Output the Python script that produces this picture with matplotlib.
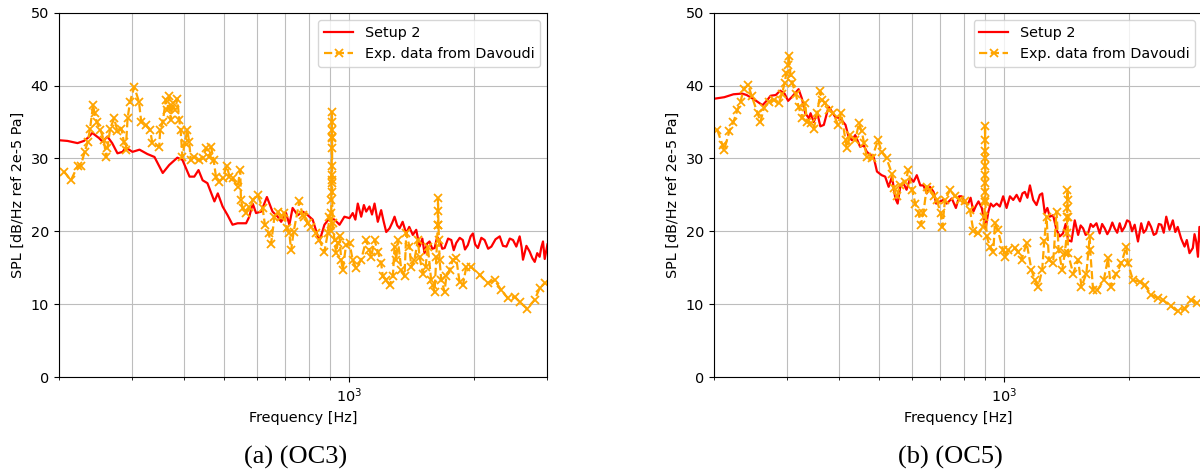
import matplotlib
matplotlib.use("Agg")
import matplotlib.pyplot as plt
from matplotlib.ticker import NullFormatter

# ---------------- data ----------------
# (a) OC3 — Setup 2 (simulation)
f_oc3_sim = [200, 210, 222, 230, 236, 241, 246, 250, 255, 262, 269, 277, 285, 290, 301,
             313, 327, 340, 356, 369, 386, 397, 413, 424, 434, 444, 456, 474, 483, 496,
             510, 524, 539, 565, 575, 586, 597, 614, 634, 654, 673, 686, 705, 718, 731,
             752, 773, 788, 817, 848, 872, 897, 922, 948, 974, 1002, 1020, 1035, 1049, 1069,
             1085, 1099, 1119, 1135, 1151, 1172, 1194, 1210, 1228, 1251, 1270, 1286, 1305, 1322,
             1345, 1372, 1395, 1423, 1450, 1477, 1500, 1518, 1540, 1561, 1585, 1606, 1628, 1650,
             1675, 1697, 1730, 1761, 1785, 1810, 1845, 1877, 1900, 1930, 1960, 1985, 2010, 2041,
             2080, 2118, 2160, 2199, 2250, 2303, 2345, 2390, 2435, 2479, 2525, 2572, 2600, 2620,
             2670, 2719, 2760, 2796, 2835, 2873, 2900, 2927, 2955, 2982, 3000]
spl_oc3_sim = [32.5, 32.4, 32.1, 32.4, 32.9, 33.5, 33.1, 32.8, 32.3, 33.0, 32.1, 30.7, 30.9, 31.5, 30.9,
               31.2, 30.6, 30.2, 28.0, 29.1, 30.1, 29.8, 27.5, 27.5, 28.4, 27.0, 26.6, 24.1, 25.2, 23.4,
               22.2, 20.9, 21.1, 21.1, 22.0, 23.8, 22.5, 22.7, 24.7, 22.7, 22.0, 21.3, 22.5, 20.9, 23.2,
               22.2, 22.7, 22.4, 21.6, 18.6, 20.9, 21.8, 21.6, 20.9, 22.0, 21.8, 22.5, 21.6, 23.8, 22.0,
               23.6, 22.7, 23.4, 22.3, 23.8, 21.3, 22.9, 21.4, 19.9, 20.4, 21.2, 22.0, 20.8, 20.4,
               21.3, 19.7, 20.6, 19.5, 20.2, 17.9, 19.0, 17.0, 18.3, 18.6, 17.6, 17.7, 19.2, 18.8,
               17.6, 17.7, 19.0, 18.8, 17.4, 18.4, 19.1, 18.8, 17.5, 18.1, 19.3, 19.7, 18.2, 17.7,
               19.1, 18.8, 17.6, 17.9, 18.9, 19.3, 18.0, 17.9, 19.0, 18.8, 17.9, 19.3, 17.8, 16.1,
               18.0, 17.2, 16.3, 15.8, 17.0, 16.5, 17.8, 18.6, 16.2, 17.4, 18.2]

# (a) OC3 — Exp. data from Davoudi
f_oc3_exp = [206, 214, 222, 226, 231, 235, 238, 242, 244, 247, 252, 257, 260, 262, 266,
             272, 277, 283, 287, 290, 293, 297, 304, 312, 316, 324, 332, 336, 349, 351,
             356, 362, 365, 369, 372, 376, 381, 386, 390, 393, 397, 402, 408, 412, 416,
             424, 434, 444, 453, 461, 465, 472, 478, 487, 496, 508, 515, 524, 539, 547,
             549, 554, 565, 575, 586, 602, 619, 627, 640, 649, 661, 675, 686, 696, 709,
             718, 725, 735, 759, 773, 780, 794, 810, 833, 848, 872, 888, 896,
             905, 906, 906, 907, 907, 907, 908, 908, 908, 909, 909, 909, 910, 910,
             912, 922, 930, 939, 948, 957, 965, 983, 1002, 1020, 1040, 1069, 1099, 1119,
             1130, 1151, 1172, 1194, 1205, 1228, 1251, 1274, 1286, 1298, 1310, 1335, 1359, 1372,
             1397, 1410, 1436, 1463, 1477, 1504, 1527, 1546, 1575, 1590, 1605, 1621, 1634, 1636,
             1638, 1640, 1645, 1650, 1666, 1697, 1713, 1745, 1777, 1810, 1844, 1878, 1913, 1967,
             2061, 2156, 2239, 2325, 2410, 2502, 2572, 2680, 2796, 2874, 2955]
spl_oc3_exp = [28.2, 27.0, 28.9, 29.0, 30.9, 32.3, 34.1, 37.3, 36.2, 35.0, 33.9, 32.5, 30.2, 31.4, 34.1,
               35.5, 33.7, 34.1, 32.3, 31.2, 35.5, 37.8, 39.8, 37.8, 35.0, 34.6, 33.9, 32.1, 31.6, 33.9,
               35.0, 38.0, 36.6, 38.5, 35.3, 37.6, 36.6, 38.2, 35.3, 33.9, 30.2, 32.1, 33.9, 32.3, 29.8,
               30.2, 29.8, 30.0, 31.4, 30.2, 31.6, 29.8, 27.5, 26.8, 27.3, 29.0, 27.5, 27.3, 26.1, 28.4,
               24.3, 23.2, 22.5, 23.4, 24.3, 25.0, 23.2, 20.9, 19.7, 18.3, 22.0, 22.7, 22.0, 22.5, 20.4,
               19.7, 17.4, 19.9, 24.1, 22.2, 22.0, 21.1, 20.6, 19.7, 18.8, 17.2, 19.7, 22.0,
               20.0, 22.5, 24.3, 25.4, 26.6, 27.7, 28.9, 31.4, 32.8, 33.9, 35.0, 36.4, 33.0, 27.0,
               21.1, 18.8, 17.0, 18.4, 19.3, 16.0, 14.7, 18.1, 18.4, 16.0, 14.9, 16.1, 18.8, 17.4,
               16.5, 18.8, 17.2, 15.6, 13.8, 13.3, 12.6, 13.8, 17.9, 16.1, 18.8, 14.7, 13.8, 19.7,
               17.9, 15.1, 16.1, 18.8, 16.5, 14.2, 15.1, 17.9, 13.3, 12.6, 11.7, 16.5, 20.9, 24.5,
               22.8, 20.9, 18.8, 16.1, 13.3, 11.7, 13.8, 14.7, 16.1, 16.3, 13.0, 12.6, 15.1, 15.1,
               14.0, 12.9, 13.3, 11.9, 10.8, 11.0, 10.3, 9.4, 10.6, 12.2, 12.9]

# (b) OC5 — Setup 2 (simulation)
f_oc5_sim = [201, 212, 223, 234, 240, 250, 262, 269, 274, 282, 289, 296, 302, 309, 320,
             326, 332, 339, 342, 348, 355, 361, 368, 378, 385, 392, 403, 415, 422, 430,
             438, 450, 459, 467, 476, 485, 494, 507, 517, 527, 537, 547, 554, 562, 572,
             582, 594, 605, 616, 628, 639, 651, 663, 676, 686, 701, 714, 727, 748, 765,
             779, 790, 805, 819, 830, 843, 855, 867, 883, 902, 916, 928, 941, 959, 976,
             994, 1013, 1032, 1051, 1071, 1091, 1106, 1121, 1137, 1153, 1174, 1196, 1218, 1234,
             1252, 1270, 1287, 1311, 1336, 1360, 1385, 1405, 1424, 1451, 1478, 1506, 1527, 1548,
             1570, 1591, 1614, 1636, 1667, 1697, 1720, 1745, 1770, 1794, 1820, 1844, 1870, 1896,
             1920, 1949, 1975, 2003, 2030, 2060, 2098, 2136, 2165, 2194, 2225, 2256, 2290, 2321,
             2355, 2387, 2420, 2454, 2499, 2545, 2580, 2615, 2665, 2716, 2750, 2791, 2843, 2870,
             2897, 2925, 2949, 2975, 3000]
spl_oc5_sim = [38.2, 38.4, 38.8, 38.9, 38.7, 38.1, 37.3, 38.0, 38.6, 38.7, 39.3, 38.9, 37.9, 38.5, 39.5,
               38.2, 36.2, 35.5, 36.2, 35.0, 36.2, 34.4, 34.6, 37.1, 36.4, 35.7, 35.5, 34.6, 33.0, 32.5,
               33.2, 31.6, 31.8, 30.9, 30.5, 30.2, 28.2, 27.7, 27.5, 26.1, 27.5, 24.5, 23.8, 26.1, 26.6,
               25.7, 27.3, 26.8, 27.7, 26.3, 26.3, 25.2, 26.1, 25.4, 23.8, 24.1, 24.3, 23.8, 24.5, 23.2,
               24.8, 24.8, 23.9, 23.8, 24.6, 22.7, 23.5, 24.1, 23.2, 20.4, 22.7, 23.8, 23.4, 23.8, 23.4,
               24.8, 23.2, 24.8, 24.3, 25.0, 24.1, 25.2, 25.4, 24.6, 26.3, 24.3, 23.6, 25.0, 25.2,
               22.5, 23.2, 22.0, 22.2, 20.2, 19.3, 19.7, 21.0, 18.8, 18.6, 21.5, 19.5, 20.8, 20.4,
               19.5, 19.7, 21.0, 20.6, 21.1, 19.7, 21.0, 20.4, 19.6, 20.2, 21.2, 20.4, 19.8, 21.1,
               20.0, 20.6, 21.5, 21.3, 20.0, 20.9, 18.6, 21.1, 19.8, 20.2, 21.3, 20.6, 19.5, 19.7,
               21.0, 20.9, 19.8, 22.0, 20.2, 21.5, 19.9, 20.6, 19.0, 17.9, 18.8, 17.0, 17.7, 19.6,
               18.6, 16.5, 20.6, 18.5, 19.0]

# (b) OC5 — Exp. data from Davoudi
f_oc5_exp = [204, 210, 212, 218, 223, 228, 232, 236, 242, 247, 255, 259, 264, 271, 279,
             287, 292, 296, 299, 302, 303, 306, 309, 315, 320, 326, 332, 335, 342, 348,
             355, 361, 365, 371, 378, 388, 398, 405, 415, 418, 426, 438, 447, 454, 460,
             467, 480, 497, 507, 521, 537, 542, 551, 562, 578, 588, 600, 611, 622, 630,
             639, 651, 663, 676, 688, 703, 710, 720, 741, 761, 783, 805, 827, 843, 867,
             890, 896, 897, 897, 898, 898, 898, 899, 899, 899, 900, 901, 907, 924, 941, 950,
             964, 994, 1004, 1023, 1061, 1081, 1101, 1132, 1163, 1185, 1207, 1234, 1248, 1264,
             1281, 1311, 1336, 1352, 1378, 1399, 1415, 1417, 1418, 1419, 1420, 1421, 1423, 1465,
             1506, 1534, 1576, 1606, 1610, 1636, 1675, 1736, 1777, 1803, 1861, 1913, 1966, 1984,
             2040, 2117, 2177, 2256, 2345, 2405, 2522, 2615, 2716, 2820, 2917]
spl_oc5_exp = [33.9, 31.8, 31.2, 33.7, 35.0, 36.6, 37.8, 39.5, 40.1, 38.5, 36.2, 35.0, 36.9, 37.8, 38.0,
               37.6, 38.9, 40.3, 41.7, 42.8, 44.0, 41.5, 40.3, 38.9, 37.1, 35.5, 37.6, 35.0, 34.8, 34.1,
               36.2, 39.2, 38.0, 37.6, 36.6, 36.2, 34.6, 36.2, 32.5, 31.4, 33.2, 32.5, 34.8, 33.7, 32.1,
               30.2, 30.0, 32.5, 30.9, 30.0, 27.9, 25.9, 24.8, 26.3, 26.8, 28.4, 25.7, 23.8, 22.5, 20.9,
               22.5, 26.1, 25.7, 24.8, 24.3, 22.5, 20.6, 24.3, 25.7, 24.8, 24.3, 24.1, 22.9, 20.0, 19.7,
               20.6, 22.0, 24.3, 25.4, 26.6, 27.7, 28.9, 30.0, 32.5, 34.5, 31.0, 24.0, 19.3, 17.9, 17.2, 21.1,
               20.2, 17.4, 16.5, 17.4, 17.7, 17.2, 16.1, 18.4, 14.7, 13.3, 12.4, 14.7, 18.6, 22.0,
               16.1, 15.6, 22.7, 17.4, 14.7, 17.0, 19.7, 22.0, 23.2, 25.7, 24.3, 22.0, 17.0, 14.2,
               16.1, 12.4, 14.2, 19.3, 17.4, 11.9, 11.9, 13.3, 16.3, 12.4, 14.2, 15.6, 17.9, 15.6,
               13.3, 13.1, 12.6, 11.3, 10.8, 10.6, 9.7, 9.0, 9.4, 10.6, 10.1]

captions = ["(a) (OC3)", "(b) (OC5)"]
x_label = "Frequency [Hz]"
y_label = "SPL [dB/Hz ref 2e-5 Pa]"
legend_labels = ["Setup 2", "Exp. data from Davoudi"]

# ---------------- figure ----------------
plt.rcParams['font.family'] = ['DejaVu Sans']
plt.rcParams['font.size'] = 10.4

fig = plt.figure(figsize=(12, 4.75), dpi=100)
ax_a = fig.add_axes([0.0489, 0.2063, 0.4073, 0.767])
ax_b = fig.add_axes([0.5948, 0.2063, 0.4073, 0.767])

panels = [
    (ax_a, f_oc3_sim, spl_oc3_sim, f_oc3_exp, spl_oc3_exp, captions[0], 0.246),
    (ax_b, f_oc5_sim, spl_oc5_sim, f_oc5_exp, spl_oc5_exp, captions[1], 0.792),
]

for ax, fs, ss, fe, se, cap, cx in panels:
    ax.plot(fs, ss, color='red', lw=1.6, label=legend_labels[0])
    ax.plot(fe, se, color='orange', ls='--', lw=1.6, marker='x', ms=6, mew=1.3,
            label=legend_labels[1])
    ax.set_xscale('log')
    ax.set_xlim(200, 3000)
    ax.set_ylim(0, 50)
    ax.set_yticks([0, 10, 20, 30, 40, 50])
    ax.xaxis.set_minor_formatter(NullFormatter())
    ax.grid(True, which='both', color='#bdbdbd', lw=0.8)
    ax.set_xlabel(x_label)
    ax.set_ylabel(y_label)
    ax.legend(loc='upper right')
    fig.text(cx, 0.025, cap, family='Liberation Serif', fontsize=19,
             ha='center', va='baseline')

fig.savefig('out.png', dpi=100)
